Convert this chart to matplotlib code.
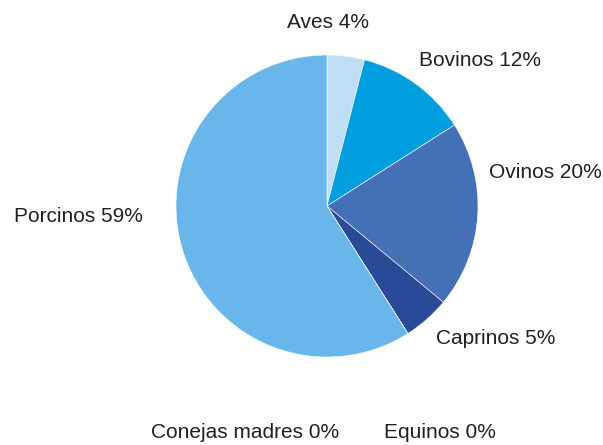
import matplotlib
matplotlib.use("Agg")
import matplotlib.pyplot as plt

# datos
categorias = ["Aves", "Bovinos", "Ovinos", "Caprinos", "Equinos", "Conejas madres", "Porcinos"]
porcentajes = [4, 12, 20, 5, 0, 0, 59]
colores = ["#bfddf5", "#009ddf", "#4470b6", "#294a96", "#1f3c7a", "#3a7fc8", "#68b6ea"]

# posicion de las etiquetas (pixeles, origen arriba a la izquierda)
pos_etiquetas = [(328, 22), (480, 60), (545, 172), (496, 338), (440, 433), (245, 433), (78, 217)]

W, H = 603, 445
plt.rcParams['font.family'] = ['Liberation Sans', 'DejaVu Sans']

fig = plt.figure(figsize=(W / 100, H / 100), dpi=100)
ax = fig.add_axes([0, 0, 1, 1])

valores = [p if p > 0 else 1e-9 for p in porcentajes]
ax.pie(valores, colors=colores, startangle=90, counterclock=False,
       center=(327, H - 206), radius=151, frame=True,
       wedgeprops=dict(edgecolor='white', linewidth=0.4))
ax.set_xlim(0, W)
ax.set_ylim(0, H)
ax.set_aspect('equal')
ax.axis('off')

for cat, p, (x, y) in zip(categorias, porcentajes, pos_etiquetas):
    ax.text(x, H - y, f"{cat} {p}%", ha='center', va='center',
            fontsize=15, color='#231f20')

fig.savefig("out.png", dpi=100)
